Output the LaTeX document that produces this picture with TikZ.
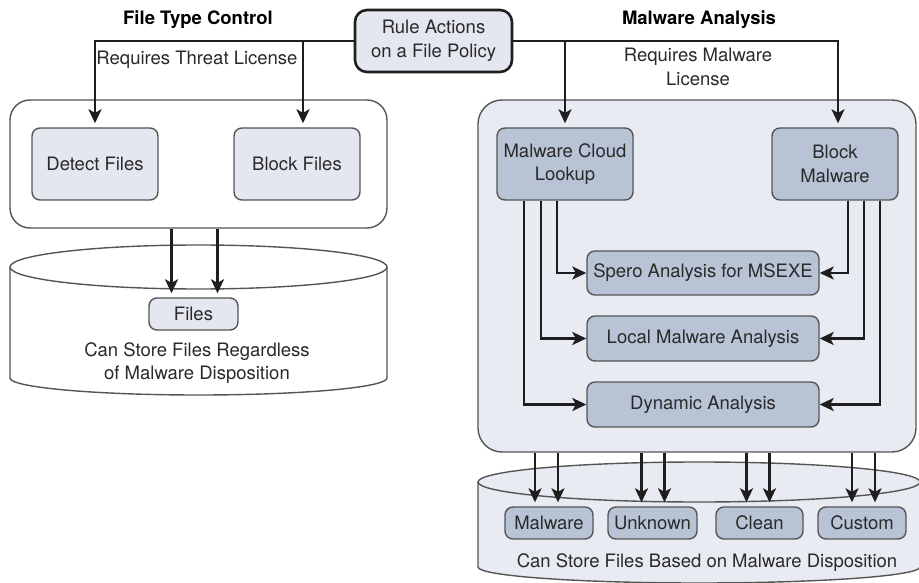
\documentclass[tikz,border=0pt]{standalone}
\usepackage{fontspec}
\setmainfont{TeX Gyre Heros}
\usetikzlibrary{arrows.meta,calc}
\definecolor{ink}{HTML}{2A2A2A}
\definecolor{edge}{HTML}{555555}
\definecolor{paleblue}{HTML}{E4E6F0}
\definecolor{panel}{HTML}{E9EBF3}
\definecolor{steel}{HTML}{B8C4D6}
\definecolor{wire}{HTML}{1E1E1E}
\begin{document}
\begin{tikzpicture}[x=1pt,y=-1pt,
  every node/.style={text=ink,font=\fontsize{18.5}{23.5}\selectfont},
  box/.style={draw=edge,line width=1.4pt,rounded corners=8pt,inner sep=0pt,align=center},
  lightbox/.style={box,fill=paleblue},
  steelbox/.style={box,fill=steel},
  panelbox/.style={draw=edge,line width=1.4pt,rounded corners=20pt,inner sep=0pt},
  arr/.style={draw=wire,line width=2.2pt,-{Stealth[length=14pt,width=13pt,inset=3.5pt]}},
  title/.style={font=\bfseries\fontsize{18.5}{22}\selectfont,text=black},
  drum/.style={draw=edge,line width=1.4pt}
]
\useasboundingbox (0,0) rectangle (919,583);
\clip (0,0) rectangle (919,583);

% headings
\node[title] (ftctitle) at (198,20) {File Type Control};
\node[title] (matitle) at (699,20) {Malware Analysis};
\node (threatlic) at (197,60) {Requires Threat License};
\node[align=center] (malwarelic) at (698,67) {Requires Malware\\License};

% policy actions
\node[box,fill=paleblue,draw=wire,line width=2.6pt,rounded corners=12pt,
      minimum width=157pt,minimum height=62pt] (rule) at (433.5,41)
      {Rule Actions\\on a File Policy};

% file type control panel
\node[panelbox,fill=white,minimum width=377pt,minimum height=128pt] (ftc) at (198.5,164) {};
\node[lightbox,minimum width=126pt,minimum height=72pt] (detect) at (95,164) {Detect Files};
\node[lightbox,minimum width=126pt,minimum height=72pt] (block) at (297,164) {Block Files};

% file storage (left)
\path[drum,fill=white] (10,267) -- (10,378)
  arc[start angle=180,end angle=0,x radius=188.5,y radius=17] -- (387,267);
\draw[drum,fill=white] (198.5,267) ellipse[x radius=188.5,y radius=22];
\node[lightbox,minimum width=89pt,minimum height=32pt] (files) at (193.5,314) {Files};
\node[align=center] (anystore) at (197,363) {Can Store Files Regardless\\of Malware Disposition};

% malware analysis panel
\node[panelbox,fill=panel,rounded corners=24pt,minimum width=438pt,minimum height=352pt] (ma) at (697,276) {};
\node[steelbox,minimum width=136pt,minimum height=72pt] (cloud) at (565,164) {Malware Cloud\\Lookup};
\node[steelbox,minimum width=126pt,minimum height=72pt] (blkmal) at (835,164) {Block\\Malware};
\node[steelbox,minimum width=232pt,minimum height=44pt] (spero) at (703,273) {Spero Analysis for MSEXE};
\node[steelbox,minimum width=232pt,minimum height=45pt] (local) at (703,338.5) {Local Malware Analysis};
\node[steelbox,minimum width=232pt,minimum height=45pt] (dyn) at (703,404.5) {Dynamic Analysis};

% disposition storage (right)
\path[drum,fill=panel] (478,482) -- (478,567)
  arc[start angle=180,end angle=0,x radius=221,y radius=16] -- (920,482);
\draw[drum,fill=panel] (699,482) ellipse[x radius=221,y radius=20];
\node[steelbox,minimum width=88pt,minimum height=32pt] (mal) at (549,523) {Malware};
\node[steelbox,minimum width=89pt,minimum height=32pt] (unk) at (652.5,523) {Unknown};
\node[steelbox,minimum width=87pt,minimum height=32pt] (cln) at (759.5,523) {Clean};
\node[steelbox,minimum width=88pt,minimum height=32pt] (cus) at (862,523) {Custom};
\node (dispstore) at (707,563) {Can Store Files Based on Malware Disposition};

% policy to actions
\draw[arr,shorten >=4pt] (rule.west) -| (detect.north);
\draw[arr,shorten >=4pt] (rule.west) -| ([xshift=6pt]block.north);
\draw[arr,shorten >=4pt] (rule.east) -| (cloud.north);
\draw[arr,shorten >=4pt] (rule.east) -| ([xshift=3pt]blkmal.north);

% lookup / block to analysis engines
\draw[arr] ([xshift=-8pt]cloud.south) |- (spero.west);
\draw[arr] ([xshift=-24pt]cloud.south) |- (local.west);
\draw[arr] ([xshift=-41pt]cloud.south) |- (dyn.west);
\draw[arr] ([xshift=13pt]blkmal.south) |- (spero.east);
\draw[arr] ([xshift=29pt]blkmal.south) |- (local.east);
\draw[arr] ([xshift=45pt]blkmal.south) |- (dyn.east);

% into storage
\coordinate (f1) at ([xshift=-22pt]files.north);
\coordinate (f2) at ([xshift=24pt]files.north);
\draw[arr,shorten >=4pt] (f1 |- ftc.south) -- (f1);
\draw[arr,shorten >=4pt] (f2 |- ftc.south) -- (f2);

\coordinate (m1) at ([xshift=-14pt]mal.north);
\coordinate (m2) at ([xshift=9pt]mal.north);
\coordinate (u1) at ([xshift=-11pt]unk.north);
\coordinate (u2) at ([xshift=12pt]unk.north);
\coordinate (c1) at ([xshift=-13pt]cln.north);
\coordinate (c2) at ([xshift=10pt]cln.north);
\coordinate (k1) at ([xshift=-10pt]cus.north);
\coordinate (k2) at ([xshift=13pt]cus.north);
\foreach \p in {m1,m2,u1,u2,c1,c2,k1,k2}
  \draw[arr,shorten >=4pt] (\p |- ma.south) -- (\p);
\end{tikzpicture}
\end{document}
